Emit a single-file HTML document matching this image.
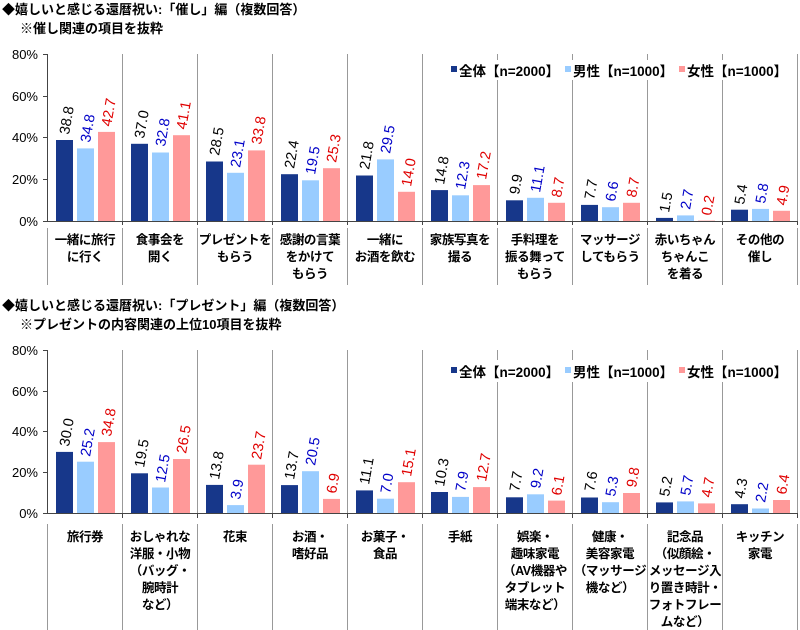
<!DOCTYPE html>
<html><head><meta charset="utf-8"><style>
html,body{margin:0;padding:0;background:#fff}
svg{display:block}
.t{font-family:"Liberation Sans","Noto Sans CJK JP",sans-serif;font-weight:bold;font-size:13px;fill:#000}
.ax{font-family:"Liberation Sans",sans-serif;font-size:13px;fill:#000}
.c{font-family:"Liberation Sans","Noto Sans CJK JP",sans-serif;font-weight:bold;font-size:12.5px;letter-spacing:-0.4px;fill:#000;text-anchor:middle}
.v{font-family:"Liberation Sans",sans-serif;font-size:14.5px}
.k{fill:#000}.b{fill:#0000c8}.r{fill:#e00000}
.lg{font-family:"Liberation Sans","Noto Sans CJK JP",sans-serif;font-weight:bold;font-size:13.5px;fill:#000}
</style></head><body>
<svg width="800" height="630" xmlns="http://www.w3.org/2000/svg">
<text class="t" x="2" y="14">◆嬉しいと感じる還暦祝い:「催し」編（複数回答）</text>
<text class="t" x="20" y="33">※催し関連の項目を抜粋</text>
<text class="t" x="2" y="310">◆嬉しいと感じる還暦祝い:「プレゼント」編（複数回答）</text>
<text class="t" x="20" y="329">※プレゼントの内容関連の上位10項目を抜粋</text>

<g stroke="#999" stroke-width="1">
<line x1="122.5" y1="54" x2="122.5" y2="221"/><line x1="197.5" y1="54" x2="197.5" y2="221"/><line x1="272.5" y1="54" x2="272.5" y2="221"/><line x1="347.5" y1="54" x2="347.5" y2="221"/><line x1="422.5" y1="54" x2="422.5" y2="221"/><line x1="497.5" y1="54" x2="497.5" y2="221"/><line x1="572.5" y1="54" x2="572.5" y2="221"/><line x1="647.5" y1="54" x2="647.5" y2="221"/><line x1="722.5" y1="54" x2="722.5" y2="221"/><line x1="797.5" y1="54" x2="797.5" y2="221"/>
<line x1="47.5" y1="228" x2="47.5" y2="285"/><line x1="122.5" y1="228" x2="122.5" y2="285"/><line x1="197.5" y1="228" x2="197.5" y2="285"/><line x1="272.5" y1="228" x2="272.5" y2="285"/><line x1="347.5" y1="228" x2="347.5" y2="285"/><line x1="422.5" y1="228" x2="422.5" y2="285"/><line x1="497.5" y1="228" x2="497.5" y2="285"/><line x1="572.5" y1="228" x2="572.5" y2="285"/><line x1="647.5" y1="228" x2="647.5" y2="285"/><line x1="722.5" y1="228" x2="722.5" y2="285"/><line x1="797.5" y1="228" x2="797.5" y2="285"/>
</g>
<rect x="445" y="60" width="350" height="20" fill="#fff"/>
<g stroke="#444" stroke-width="1">
<line x1="47.5" y1="54" x2="47.5" y2="221"/>
<line x1="43" y1="54.5" x2="47" y2="54.5"/><line x1="43" y1="96.5" x2="47" y2="96.5"/><line x1="43" y1="137.5" x2="47" y2="137.5"/><line x1="43" y1="179.5" x2="47" y2="179.5"/><line x1="43" y1="221.5" x2="47" y2="221.5"/>
<line x1="47" y1="221.5" x2="797" y2="221.5"/>
<line x1="122.5" y1="221" x2="122.5" y2="225"/><line x1="197.5" y1="221" x2="197.5" y2="225"/><line x1="272.5" y1="221" x2="272.5" y2="225"/><line x1="347.5" y1="221" x2="347.5" y2="225"/><line x1="422.5" y1="221" x2="422.5" y2="225"/><line x1="497.5" y1="221" x2="497.5" y2="225"/><line x1="572.5" y1="221" x2="572.5" y2="225"/><line x1="647.5" y1="221" x2="647.5" y2="225"/><line x1="722.5" y1="221" x2="722.5" y2="225"/><line x1="797.5" y1="221" x2="797.5" y2="225"/>
</g>
<g class="ax" text-anchor="end">
<text x="38" y="59">80%</text><text x="38" y="101">60%</text><text x="38" y="142">40%</text><text x="38" y="184">20%</text><text x="38" y="226">0%</text>
</g>
<g>
<rect x="56" y="140" width="17" height="81" fill="#17378a"/><rect x="77" y="148.4" width="17" height="72.6" fill="#99ccff"/><rect x="98" y="131.9" width="17" height="89.1" fill="#ff9999"/>
<rect x="131" y="143.8" width="17" height="77.2" fill="#17378a"/><rect x="152" y="152.5" width="17" height="68.5" fill="#99ccff"/><rect x="173" y="135.2" width="17" height="85.8" fill="#ff9999"/>
<rect x="206" y="161.5" width="17" height="59.5" fill="#17378a"/><rect x="227" y="172.8" width="17" height="48.2" fill="#99ccff"/><rect x="248" y="150.4" width="17" height="70.6" fill="#ff9999"/>
<rect x="281" y="174.2" width="17" height="46.8" fill="#17378a"/><rect x="302" y="180.3" width="17" height="40.7" fill="#99ccff"/><rect x="323" y="168.2" width="17" height="52.8" fill="#ff9999"/>
<rect x="356" y="175.5" width="17" height="45.5" fill="#17378a"/><rect x="377" y="159.4" width="17" height="61.6" fill="#99ccff"/><rect x="398" y="191.8" width="17" height="29.2" fill="#ff9999"/>
<rect x="431" y="190.1" width="17" height="30.9" fill="#17378a"/><rect x="452" y="195.3" width="17" height="25.7" fill="#99ccff"/><rect x="473" y="185.1" width="17" height="35.9" fill="#ff9999"/>
<rect x="506" y="200.3" width="17" height="20.7" fill="#17378a"/><rect x="527" y="197.8" width="17" height="23.2" fill="#99ccff"/><rect x="548" y="202.8" width="17" height="18.2" fill="#ff9999"/>
<rect x="581" y="204.9" width="17" height="16.1" fill="#17378a"/><rect x="602" y="207.2" width="17" height="13.8" fill="#99ccff"/><rect x="623" y="202.8" width="17" height="18.2" fill="#ff9999"/>
<rect x="656" y="217.9" width="17" height="3.1" fill="#17378a"/><rect x="677" y="215.4" width="17" height="5.6" fill="#99ccff"/><rect x="698" y="220.6" width="17" height="0.4" fill="#ff9999"/>
<rect x="731" y="209.7" width="17" height="11.3" fill="#17378a"/><rect x="752" y="208.9" width="17" height="12.1" fill="#99ccff"/><rect x="773" y="210.8" width="17" height="10.2" fill="#ff9999"/>
</g>
<g class="v">
<text class="k" transform="translate(69,135) rotate(-80)">38.8</text><text class="b" transform="translate(90,143) rotate(-80)">34.8</text><text class="r" transform="translate(111,127) rotate(-80)">42.7</text>
<text class="k" transform="translate(144,139) rotate(-80)">37.0</text><text class="b" transform="translate(165,147) rotate(-80)">32.8</text><text class="r" transform="translate(186,130) rotate(-80)">41.1</text>
<text class="k" transform="translate(219,156) rotate(-80)">28.5</text><text class="b" transform="translate(240,168) rotate(-80)">23.1</text><text class="r" transform="translate(261,145) rotate(-80)">33.8</text>
<text class="k" transform="translate(294,169) rotate(-80)">22.4</text><text class="b" transform="translate(315,175) rotate(-80)">19.5</text><text class="r" transform="translate(336,163) rotate(-80)">25.3</text>
<text class="k" transform="translate(369,170) rotate(-80)">21.8</text><text class="b" transform="translate(390,154) rotate(-80)">29.5</text><text class="r" transform="translate(411,187) rotate(-80)">14.0</text>
<text class="k" transform="translate(444,185) rotate(-80)">14.8</text><text class="b" transform="translate(465,190) rotate(-80)">12.3</text><text class="r" transform="translate(486,180) rotate(-80)">17.2</text>
<text class="k" transform="translate(519,195) rotate(-80)">9.9</text><text class="b" transform="translate(540,193) rotate(-80)">11.1</text><text class="r" transform="translate(561,198) rotate(-80)">8.7</text>
<text class="k" transform="translate(594,200) rotate(-80)">7.7</text><text class="b" transform="translate(615,202) rotate(-80)">6.6</text><text class="r" transform="translate(636,198) rotate(-80)">8.7</text>
<text class="k" transform="translate(669,213) rotate(-80)">1.5</text><text class="b" transform="translate(690,210) rotate(-80)">2.7</text><text class="r" transform="translate(711,216) rotate(-80)">0.2</text>
<text class="k" transform="translate(744,205) rotate(-80)">5.4</text><text class="b" transform="translate(765,204) rotate(-80)">5.8</text><text class="r" transform="translate(786,206) rotate(-80)">4.9</text>
</g>
<g class="c">
<text x="85" y="244">一緒に旅行</text><text x="85" y="261">に行く</text>
<text x="160" y="244">食事会を</text><text x="160" y="261">開く</text>
<text x="235" y="244">プレゼントを</text><text x="235" y="261">もらう</text>
<text x="310" y="244">感謝の言葉</text><text x="310" y="261">をかけて</text><text x="310" y="278">もらう</text>
<text x="385" y="244">一緒に</text><text x="385" y="261">お酒を飲む</text>
<text x="460" y="244">家族写真を</text><text x="460" y="261">撮る</text>
<text x="535" y="244">手料理を</text><text x="535" y="261">振る舞って</text><text x="535" y="278">もらう</text>
<text x="610" y="244">マッサージ</text><text x="610" y="261">してもらう</text>
<text x="685" y="244">赤いちゃん</text><text x="685" y="261">ちゃんこ</text><text x="685" y="278">を着る</text>
<text x="760" y="244">その他の</text><text x="760" y="261">催し</text>
</g>
<g class="lg">
<rect x="451" y="66" width="6" height="6" fill="#17378a"/><text x="459" y="76">全体【n=2000】</text>
<rect x="565" y="66" width="6" height="6" fill="#99ccff"/><text x="573" y="76">男性【n=1000】</text>
<rect x="679" y="66" width="6" height="6" fill="#ff9999"/><text x="687" y="76">女性【n=1000】</text>
</g>

<g stroke="#999" stroke-width="1">
<line x1="122.5" y1="350" x2="122.5" y2="513"/><line x1="197.5" y1="350" x2="197.5" y2="513"/><line x1="272.5" y1="350" x2="272.5" y2="513"/><line x1="347.5" y1="350" x2="347.5" y2="513"/><line x1="422.5" y1="350" x2="422.5" y2="513"/><line x1="497.5" y1="350" x2="497.5" y2="513"/><line x1="572.5" y1="350" x2="572.5" y2="513"/><line x1="647.5" y1="350" x2="647.5" y2="513"/><line x1="722.5" y1="350" x2="722.5" y2="513"/><line x1="797.5" y1="350" x2="797.5" y2="513"/>
<line x1="47.5" y1="524" x2="47.5" y2="630"/><line x1="122.5" y1="524" x2="122.5" y2="630"/><line x1="197.5" y1="524" x2="197.5" y2="630"/><line x1="272.5" y1="524" x2="272.5" y2="630"/><line x1="347.5" y1="524" x2="347.5" y2="630"/><line x1="422.5" y1="524" x2="422.5" y2="630"/><line x1="497.5" y1="524" x2="497.5" y2="630"/><line x1="572.5" y1="524" x2="572.5" y2="630"/><line x1="647.5" y1="524" x2="647.5" y2="630"/><line x1="722.5" y1="524" x2="722.5" y2="630"/><line x1="797.5" y1="524" x2="797.5" y2="630"/>
</g>
<rect x="445" y="360" width="350" height="22" fill="#fff"/>
<g stroke="#444" stroke-width="1">
<line x1="47.5" y1="350" x2="47.5" y2="513"/>
<line x1="43" y1="350.5" x2="47" y2="350.5"/><line x1="43" y1="391.5" x2="47" y2="391.5"/><line x1="43" y1="431.5" x2="47" y2="431.5"/><line x1="43" y1="472.5" x2="47" y2="472.5"/><line x1="43" y1="513.5" x2="47" y2="513.5"/>
<line x1="47" y1="513.5" x2="797" y2="513.5"/>
<line x1="122.5" y1="513" x2="122.5" y2="518"/><line x1="197.5" y1="513" x2="197.5" y2="518"/><line x1="272.5" y1="513" x2="272.5" y2="518"/><line x1="347.5" y1="513" x2="347.5" y2="518"/><line x1="422.5" y1="513" x2="422.5" y2="518"/><line x1="497.5" y1="513" x2="497.5" y2="518"/><line x1="572.5" y1="513" x2="572.5" y2="518"/><line x1="647.5" y1="513" x2="647.5" y2="518"/><line x1="722.5" y1="513" x2="722.5" y2="518"/><line x1="797.5" y1="513" x2="797.5" y2="518"/>
</g>
<g class="ax" text-anchor="end">
<text x="38" y="355">80%</text><text x="38" y="396">60%</text><text x="38" y="436">40%</text><text x="38" y="477">20%</text><text x="38" y="518">0%</text>
</g>
<g>
<rect x="56" y="451.9" width="17" height="61.1" fill="#17378a"/><rect x="77" y="461.7" width="17" height="51.3" fill="#99ccff"/><rect x="98" y="442.1" width="17" height="70.9" fill="#ff9999"/>
<rect x="131" y="473.3" width="17" height="39.7" fill="#17378a"/><rect x="152" y="487.5" width="17" height="25.5" fill="#99ccff"/><rect x="173" y="459" width="17" height="54" fill="#ff9999"/>
<rect x="206" y="484.9" width="17" height="28.1" fill="#17378a"/><rect x="227" y="505.1" width="17" height="7.9" fill="#99ccff"/><rect x="248" y="464.7" width="17" height="48.3" fill="#ff9999"/>
<rect x="281" y="485.1" width="17" height="27.9" fill="#17378a"/><rect x="302" y="471.2" width="17" height="41.8" fill="#99ccff"/><rect x="323" y="498.9" width="17" height="14.1" fill="#ff9999"/>
<rect x="356" y="490.4" width="17" height="22.6" fill="#17378a"/><rect x="377" y="498.7" width="17" height="14.3" fill="#99ccff"/><rect x="398" y="482.2" width="17" height="30.8" fill="#ff9999"/>
<rect x="431" y="492" width="17" height="21" fill="#17378a"/><rect x="452" y="496.9" width="17" height="16.1" fill="#99ccff"/><rect x="473" y="487.1" width="17" height="25.9" fill="#ff9999"/>
<rect x="506" y="497.3" width="17" height="15.7" fill="#17378a"/><rect x="527" y="494.3" width="17" height="18.7" fill="#99ccff"/><rect x="548" y="500.6" width="17" height="12.4" fill="#ff9999"/>
<rect x="581" y="497.5" width="17" height="15.5" fill="#17378a"/><rect x="602" y="502.2" width="17" height="10.8" fill="#99ccff"/><rect x="623" y="493" width="17" height="20" fill="#ff9999"/>
<rect x="656" y="502.4" width="17" height="10.6" fill="#17378a"/><rect x="677" y="501.4" width="17" height="11.6" fill="#99ccff"/><rect x="698" y="503.4" width="17" height="9.6" fill="#ff9999"/>
<rect x="731" y="504.2" width="17" height="8.8" fill="#17378a"/><rect x="752" y="508.5" width="17" height="4.5" fill="#99ccff"/><rect x="773" y="500" width="17" height="13" fill="#ff9999"/>
</g>
<g class="v">
<text class="k" transform="translate(69,447) rotate(-80)">30.0</text><text class="b" transform="translate(90,457) rotate(-80)">25.2</text><text class="r" transform="translate(111,437) rotate(-80)">34.8</text>
<text class="k" transform="translate(144,468) rotate(-80)">19.5</text><text class="b" transform="translate(165,483) rotate(-80)">12.5</text><text class="r" transform="translate(186,454) rotate(-80)">26.5</text>
<text class="k" transform="translate(219,480) rotate(-80)">13.8</text><text class="b" transform="translate(240,500) rotate(-80)">3.9</text><text class="r" transform="translate(261,460) rotate(-80)">23.7</text>
<text class="k" transform="translate(294,480) rotate(-80)">13.7</text><text class="b" transform="translate(315,466) rotate(-80)">20.5</text><text class="r" transform="translate(336,494) rotate(-80)">6.9</text>
<text class="k" transform="translate(369,485) rotate(-80)">11.1</text><text class="b" transform="translate(390,494) rotate(-80)">7.0</text><text class="r" transform="translate(411,477) rotate(-80)">15.1</text>
<text class="k" transform="translate(444,487) rotate(-80)">10.3</text><text class="b" transform="translate(465,492) rotate(-80)">7.9</text><text class="r" transform="translate(486,482) rotate(-80)">12.7</text>
<text class="k" transform="translate(519,492) rotate(-80)">7.7</text><text class="b" transform="translate(540,489) rotate(-80)">9.2</text><text class="r" transform="translate(561,496) rotate(-80)">6.1</text>
<text class="k" transform="translate(594,492) rotate(-80)">7.6</text><text class="b" transform="translate(615,497) rotate(-80)">5.3</text><text class="r" transform="translate(636,488) rotate(-80)">9.8</text>
<text class="k" transform="translate(669,497) rotate(-80)">5.2</text><text class="b" transform="translate(690,496) rotate(-80)">5.7</text><text class="r" transform="translate(711,498) rotate(-80)">4.7</text>
<text class="k" transform="translate(744,499) rotate(-80)">4.3</text><text class="b" transform="translate(765,503) rotate(-80)">2.2</text><text class="r" transform="translate(786,495) rotate(-80)">6.4</text>
</g>
<g class="c">
<text x="85" y="541">旅行券</text>
<text x="160" y="541">おしゃれな</text><text x="160" y="558">洋服・小物</text><text x="160" y="575">（バッグ・</text><text x="160" y="592">腕時計</text><text x="160" y="609">など）</text>
<text x="235" y="541">花束</text>
<text x="310" y="541">お酒・</text><text x="310" y="558">嗜好品</text>
<text x="385" y="541">お菓子・</text><text x="385" y="558">食品</text>
<text x="460" y="541">手紙</text>
<text x="535" y="541">娯楽・</text><text x="535" y="558">趣味家電</text><text x="535" y="575">（AV機器や</text><text x="535" y="592">タブレット</text><text x="535" y="609">端末など）</text>
<text x="610" y="541">健康・</text><text x="610" y="558">美容家電</text><text x="610" y="575">（マッサージ</text><text x="610" y="592">機など）</text>
<text x="685" y="541">記念品</text><text x="685" y="558">（似顔絵・</text><text x="685" y="575">メッセージ入</text><text x="685" y="592">り置き時計・</text><text x="685" y="609">フォトフレー</text><text x="685" y="626">ムなど）</text>
<text x="760" y="541">キッチン</text><text x="760" y="558">家電</text>
</g>
<g class="lg">
<rect x="451" y="367" width="6" height="6" fill="#17378a"/><text x="459" y="377">全体【n=2000】</text>
<rect x="565" y="367" width="6" height="6" fill="#99ccff"/><text x="573" y="377">男性【n=1000】</text>
<rect x="679" y="367" width="6" height="6" fill="#ff9999"/><text x="687" y="377">女性【n=1000】</text>
</g>
</svg>
</body></html>
